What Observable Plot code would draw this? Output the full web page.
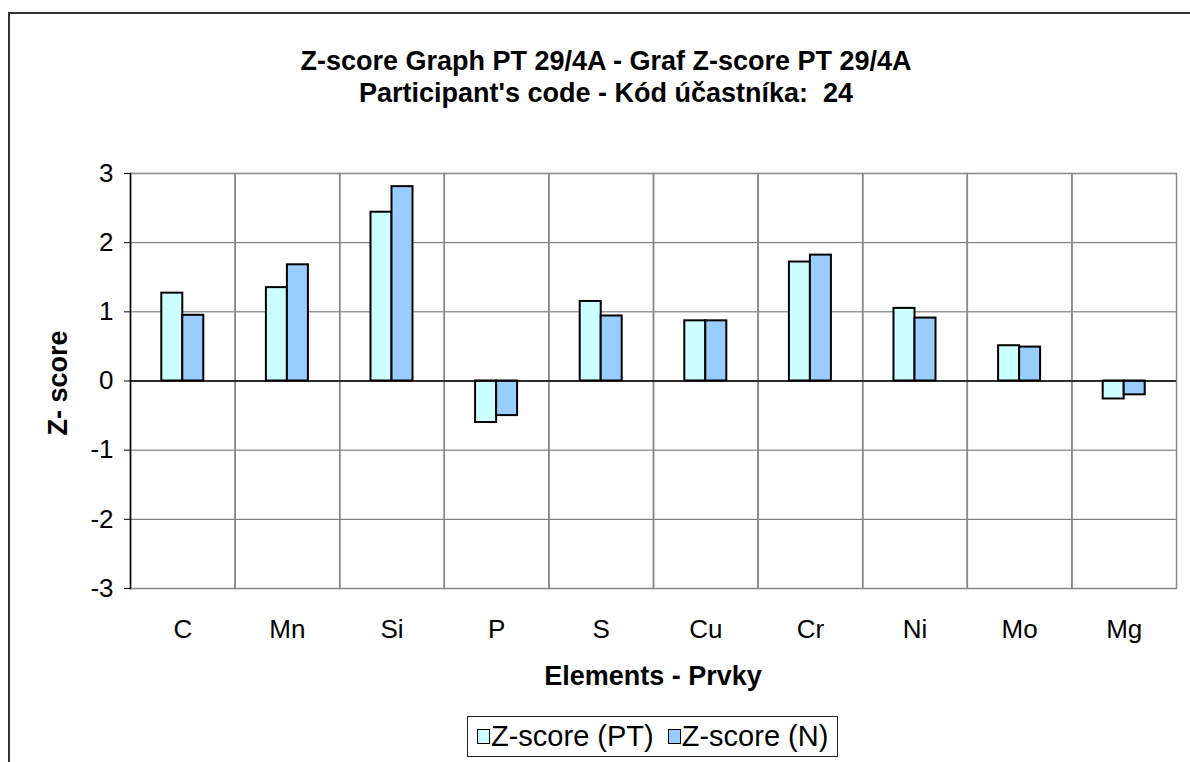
<!DOCTYPE html>
<html><head><meta charset="utf-8">
<script src="https://cdn.jsdelivr.net/npm/d3@7"></script>
<script src="https://cdn.jsdelivr.net/npm/@observablehq/plot@0.6"></script>
<style>
body{margin:0;background:#fff;font-family:"Liberation Sans",Arial,sans-serif;}
#wrap{position:relative;width:1190px;height:762px;overflow:hidden;background:#fff;}
#border{position:absolute;left:8px;top:12px;width:1300px;height:900px;border-top:2px solid #333;border-left:2px solid #333;}
#chart{position:absolute;left:0;top:0;}
.title{position:absolute;left:606px;transform:translateX(-50%);white-space:nowrap;font-weight:bold;font-size:27px;color:#000;}
#ylab{position:absolute;left:58px;top:383px;transform:translate(-50%,-50%) rotate(-90deg);white-space:nowrap;font-weight:bold;font-size:27px;}
#xlab{position:absolute;left:653px;top:676px;transform:translate(-50%,-50%);white-space:nowrap;font-weight:bold;font-size:27px;}
#legend{position:absolute;left:467px;top:716px;width:369px;height:39px;border:1px solid #222;display:flex;align-items:center;font-size:29px;white-space:nowrap;}
.sw{display:inline-block;width:11px;height:13px;border:1.5px solid #000;margin:0 1px 0 0;}
</style></head><body>
<div id="wrap">
  <div id="border"></div>
  <div id="chart"></div>
  <div class="title" id="t1" style="top:46px">Z-score Graph PT 29/4A - Graf Z-score PT 29/4A</div>
  <div class="title" id="t2" style="top:78px">Participant's code - Kód účastníka:&nbsp; 24</div>
  <div id="ylab">Z- score</div>
  <div id="xlab">Elements - Prvky</div>
  <div id="legend"></div>
</div>
<script>
const elements = ["C","Mn","Si","P","S","Cu","Cr","Ni","Mo","Mg"];
const zPT = [1.27,1.35,2.44,-0.60,1.15,0.87,1.72,1.05,0.51,-0.26];
const zN  = [0.95,1.68,2.81,-0.50,0.94,0.87,1.82,0.91,0.49,-0.20];
const seriesNames = ["Z-score (PT)","Z-score (N)"];
const seriesColors = ["#CCFFFF","#99CCFF"];
const yTicks = [-3,-2,-1,0,1,2,3];

const data = elements.flatMap((e,i)=>[
  {element:e, series:seriesNames[0], value:zPT[i]},
  {element:e, series:seriesNames[1], value:zN[i]}
]);

const chart = Plot.plot({
  width:1190, height:762,
  marginLeft:130, marginRight:14, marginTop:173, marginBottom:174,
  style:{fontFamily:"'Liberation Sans', Arial, sans-serif", fontSize:"26px", background:"transparent", color:"#000"},
  fx:{domain:elements, padding:0, round:false, label:null},
  x:{domain:seriesNames, paddingInner:0, paddingOuter:1.49, round:false, axis:null},
  y:{domain:[-3,3], label:null},
  color:{domain:seriesNames, range:seriesColors},
  marks:[
    Plot.ruleY(yTicks, {stroke:"#666", strokeWidth:1}),
    Plot.frame({stroke:"#888", strokeWidth:1.5}),
    Plot.frame({anchor:"left", stroke:"#000", strokeWidth:1.5, facetAnchor:"left"}),
    Plot.barY(data, {fx:"element", x:"series", y:"value", fill:"series", stroke:"#000", strokeWidth:2}),
    Plot.ruleY([0], {stroke:"#000", strokeWidth:1.5}),
    Plot.axisY({ticks:yTicks, tickSize:6, tickPadding:11, tickFormat:d=>String(d).replace("−","-"), label:null, fontSize:26}),
    Plot.axisFx({anchor:"bottom", tickSize:0, tickPadding:31, label:null, fontSize:26})
  ]
});
document.getElementById("chart").appendChild(chart);

const leg = document.getElementById("legend");
seriesNames.forEach((s,i)=>{
  const sw = document.createElement("span"); sw.className="sw"; sw.style.background=seriesColors[i];
  sw.style.marginLeft = i===0 ? "9px" : "14px";
  leg.appendChild(sw);
  const t = document.createElement("span"); t.textContent=s; leg.appendChild(t);
});
</script>
</body></html>
